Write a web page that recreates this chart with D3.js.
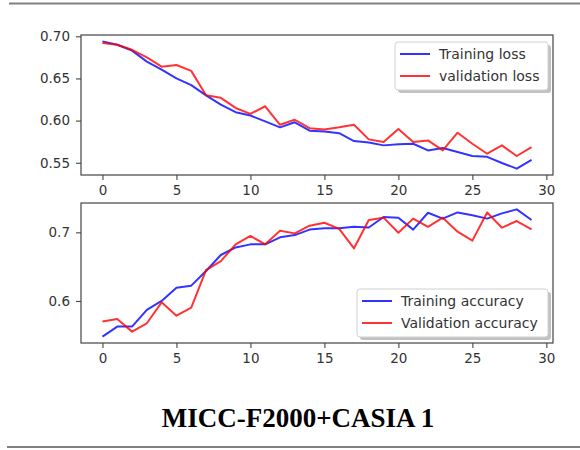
<!DOCTYPE html>
<html><head><meta charset="utf-8">
<script src="https://cdn.jsdelivr.net/npm/d3@7"></script>
<style>body{margin:0;background:#fff;} svg{display:block;}</style>
</head><body>
<svg id="c" width="580" height="450"></svg>
<script>
const epochs = d3.range(0, 30);
const trainLoss = [0.694,0.690,0.683,0.670,0.6605,0.650,0.642,0.630,0.619,0.610,0.606,0.599,0.592,0.598,0.588,0.587,0.585,0.5757,0.574,0.5706,0.572,0.5725,0.5646,0.5674,0.5627,0.558,0.557,0.5497,0.543,0.5533];
const valLoss = [0.692,0.690,0.684,0.675,0.664,0.666,0.659,0.630,0.627,0.615,0.608,0.617,0.595,0.601,0.591,0.5895,0.592,0.595,0.5777,0.5745,0.590,0.5745,0.5765,0.5646,0.5856,0.5725,0.5607,0.5706,0.558,0.5685];
const trainAcc = [0.548,0.5626,0.5626,0.587,0.600,0.6194,0.6223,0.6437,0.667,0.678,0.6825,0.6825,0.6927,0.696,0.704,0.7058,0.7058,0.708,0.707,0.7223,0.7214,0.704,0.7286,0.720,0.729,0.725,0.720,0.7277,0.7335,0.718];
const valAcc = [0.570,0.5738,0.5553,0.5675,0.598,0.5786,0.5903,0.645,0.658,0.6825,0.6947,0.6825,0.7024,0.6985,0.7097,0.714,0.705,0.6767,0.718,0.7214,0.6995,0.720,0.708,0.7214,0.701,0.6879,0.729,0.7068,0.7165,0.7044];
const xTicks = [0,5,10,15,20,25,30];
const lossTicks = [0.55,0.60,0.65,0.70];
const accTicks = [0.6,0.7];
const lossLabels = ["Training loss","validation loss"];
const accLabels = ["Training accuracy","Validation accuracy"];
const colors = ["#0000ff","#ff0000"];
const title = "MICC-F2000+CASIA 1";

const svg = d3.select("#c");
const FONT = "DejaVu Sans, sans-serif";

svg.append("line").attr("x1",9).attr("x2",580).attr("y1",3.5).attr("y2",3.5).attr("stroke","#808080").attr("stroke-width",2);
svg.append("line").attr("x1",7).attr("x2",580).attr("y1",447).attr("y2",447).attr("stroke","#808080").attr("stroke-width",2);

function pad(ext){const r=ext[1]-ext[0];return [ext[0]-0.05*r, ext[1]+0.05*r];}

function panel(top, bottom, series, yTicks, fmt, labels, legend){
  const x = d3.scaleLinear().domain(pad([0,29])).range([81,553]);
  const all = series.flat();
  const y = d3.scaleLinear().domain(pad(d3.extent(all))).range([bottom, top]);
  const g = svg.append("g");
  const line = d3.line().x((d,i)=>x(epochs[i])).y(d=>y(d));
  series.forEach((s,k)=>{
    g.append("path").datum(s).attr("d",line).attr("fill","none").attr("stroke",colors[k]).attr("stroke-width",2).attr("stroke-opacity",0.8).attr("stroke-linejoin","round");
  });
  g.append("rect").attr("x",81).attr("y",top).attr("width",553-81).attr("height",bottom-top).attr("fill","none").attr("stroke","#444").attr("stroke-width",1.2);
  const ax = g.append("g").attr("transform",`translate(0,${bottom})`).call(d3.axisBottom(x).tickValues(xTicks).tickSize(5).tickPadding(5).tickFormat(d3.format("d")));
  const ay = g.append("g").attr("transform",`translate(81,0)`).call(d3.axisLeft(y).tickValues(yTicks).tickSize(5).tickPadding(6).tickFormat(d3.format(fmt)));
  [ax,ay].forEach(a=>{
    a.select(".domain").remove();
    a.selectAll("line").attr("stroke","#444").attr("stroke-width",1.1);
    a.selectAll("text").attr("fill","#333").style("font-family",FONT).style("font-size","13.5px");
  });
  const lg = g.append("g");
  lg.append("rect").attr("x",legend.x+3).attr("y",legend.y+3).attr("width",legend.w).attr("height",legend.h).attr("rx",3).attr("fill","#999").attr("opacity",0.6);
  lg.append("rect").attr("x",legend.x).attr("y",legend.y).attr("width",legend.w).attr("height",legend.h).attr("rx",3).attr("fill","#fff").attr("stroke","#d0d0d0");
  labels.forEach((t,k)=>{
    const yy = legend.y + 12 + k*22;
    lg.append("line").attr("x1",legend.x+5).attr("x2",legend.x+35).attr("y1",yy).attr("y2",yy).attr("stroke",colors[k]).attr("stroke-width",2).attr("stroke-opacity",0.8);
    lg.append("text").attr("x",legend.x+44).attr("y",yy).attr("dy","0.35em").text(t).attr("fill","#333").style("font-family",FONT).style("font-size","14px");
  });
}

panel(35,175,[trainLoss,valLoss],lossTicks,".2f",lossLabels,{x:395,y:42,w:153,h:48});
panel(203,343,[trainAcc,valAcc],accTicks,".1f",accLabels,{x:357,y:289,w:191,h:48});

svg.append("text").attr("x",298).attr("y",427).attr("text-anchor","middle").text(title)
  .style("font-family","Liberation Serif, Times New Roman, serif").style("font-weight","bold").style("font-size","27px").attr("fill","#000");
</script>
</body></html>
